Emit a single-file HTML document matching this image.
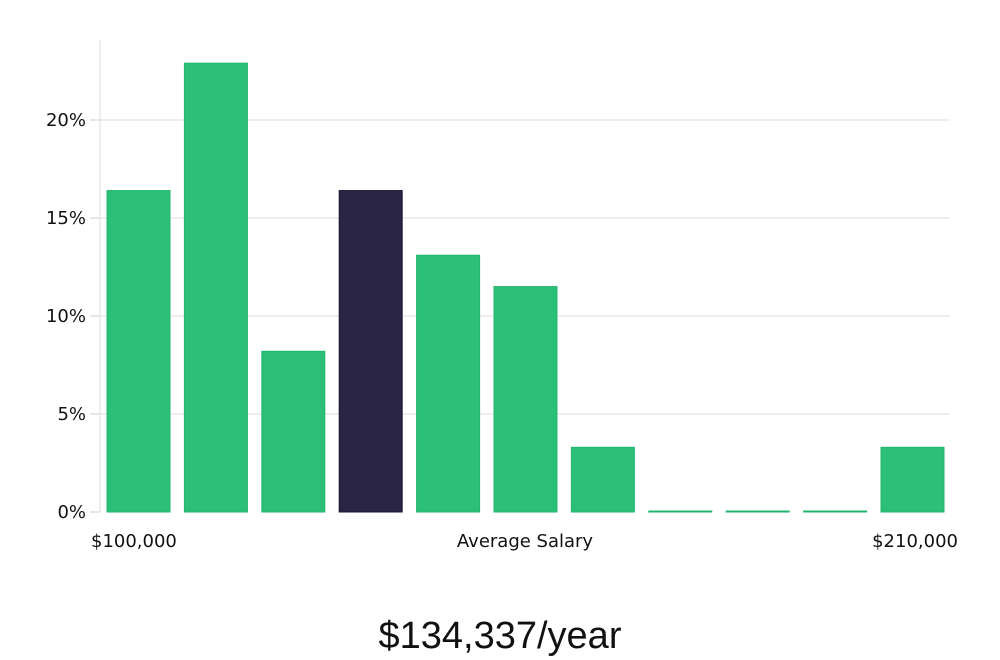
<!DOCTYPE html>
<html><head><meta charset="utf-8"><style>
body{margin:0;background:#fff;}
svg{display:block;font-family:"DejaVu Sans","Liberation Sans",sans-serif;}
</style></head><body>
<svg id="chart" width="1000" height="660" viewBox="0 0 1000 660"></svg>
<script>
const categories = ["b1","b2","b3","b4","b5","b6","b7","b8","b9","b10","b11"];
const values = [16.4, 22.9, 8.2, 16.4, 13.1, 11.5, 3.3, 0, 0, 0, 3.3];
const highlight = [false,false,false,true,false,false,false,false,false,false,false];
const yTicks = [0,5,10,15,20];
const yTickLabels = ["0%","5%","10%","15%","20%"];
const xLabels = ["$100,000","Average Salary","$210,000"];
const summary = "$134,337/year";

const NS="http://www.w3.org/2000/svg";
const svg=document.getElementById('chart');
const x0=100,x1=950,y0=512,ymax=20,ymaxPx=120;
const y=v=>y0-(v/ymax)*(y0-ymaxPx);
const step=77.4, barW=63, barOff=7;
const xb=i=>x0+barOff+i*step;
function mk(t,a){const e=document.createElementNS(NS,t);for(const k in a)e.setAttribute(k,a[k]);svg.appendChild(e);return e;}

yTicks.forEach((t,i)=>{
  if(t>0){const g=mk('line',{x1:x0,x2:x1,y1:y(t),y2:y(t),stroke:'#dddddd','stroke-width':1});
  
  }
  const tk=mk('line',{x1:90,x2:x0,y1:y(t),y2:y(t),stroke:'#cccccc','stroke-width':1});
  
  
  const tx=mk('text',{x:86,y:y(t)+6,'text-anchor':'end','font-size':18,fill:'#111'});
  tx.textContent=yTickLabels[i];
  
  
});
const ax=mk('line',{x1:x0,x2:x0,y1:40,y2:y0,stroke:'#dddddd','stroke-width':1});



values.forEach((v,i)=>{
  const h=Math.max(y0-y(v),1);
  const r=mk('rect',{x:xb(i),y:y0-h,width:barW,height:h,fill:highlight[i]?'#2a2545':'#2bbf77',stroke:highlight[i]?'#1a1535':'#22b56c','stroke-width':1});
  
  
});

const xl=[[91,'start'],[525,'middle'],[958,'end']];
xLabels.forEach((l,i)=>{
  const t=mk('text',{x:xl[i][0],y:547,'text-anchor':xl[i][1],'font-size':18,fill:'#111'});
  t.textContent=l;
  
  
});
const s=mk('text',{x:500,y:648,'text-anchor':'middle','font-size':38,fill:'#111','font-weight':300,'font-family':'"Liberation Sans",sans-serif'});
s.textContent=summary;


</script>
</body></html>
